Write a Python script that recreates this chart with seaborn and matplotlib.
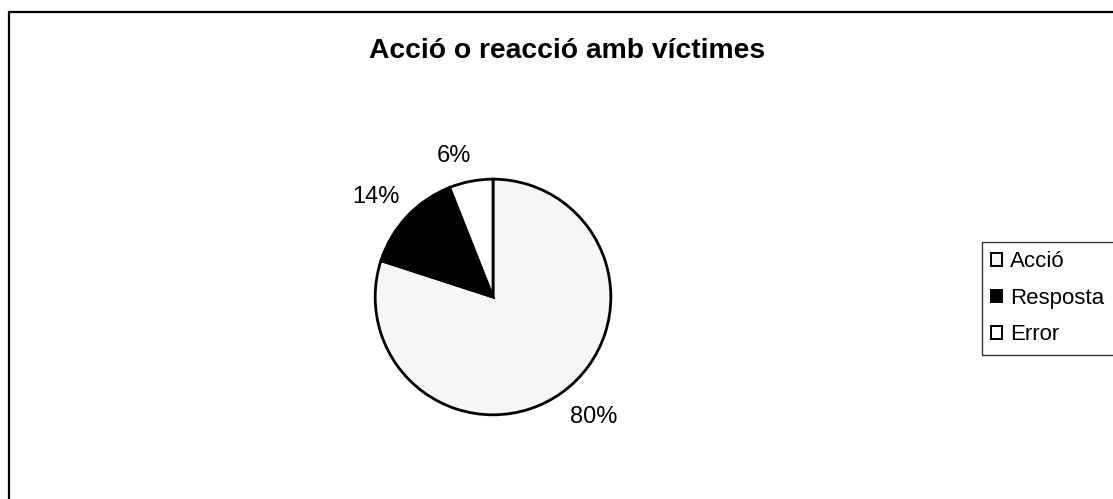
import matplotlib
matplotlib.use("Agg")
import matplotlib.pyplot as plt
import seaborn as sns
from matplotlib.lines import Line2D

sns.set_theme(style="white")
plt.rcParams["font.family"] = ["Liberation Sans", "DejaVu Sans"]
plt.rcParams["text.color"] = "black"

categories = ["Acció", "Resposta", "Error"]
shares = [80, 14, 6]
colors = ["#f6f6f6", "#000000", "#ffffff"]
title = "Acció o reacció amb víctimes"

W, H = 1113, 499
fig = plt.figure(figsize=(W / 100, H / 100), dpi=100)
fig.patch.set_facecolor("white")


def fx(px):
    return px / W


def fy(py):
    return 1 - py / H


# outer chart-area frame (left and top edges visible)
fig.add_artist(Line2D([fx(9), fx(9)], [0, fy(12)], color="black", lw=1.6,
                      transform=fig.transFigure))
fig.add_artist(Line2D([fx(9), 1], [fy(12), fy(12)], color="black", lw=1.6,
                      transform=fig.transFigure))

# pie axes
r = 119
cx, cy = 493, 297
ax = fig.add_axes([fx(cx - r), fy(cy + r), 2 * r / W, 2 * r / H])
wedges, _ = ax.pie(shares, colors=colors, startangle=90, counterclock=False,
                   wedgeprops=dict(edgecolor="black", linewidth=2.0))
ax.set_aspect("auto")
ax.set_xlim(-1.01, 1.01)
ax.set_ylim(-1.01, 1.01)

fig.text(fx(567), fy(58), title, ha="center", va="baseline",
         fontsize=20.3, fontweight="bold")

# percentage labels (centre x, baseline y)
label_pos = {"Acció": (594, 423), "Resposta": (376, 203), "Error": (454, 162)}
for cat, val in zip(categories, shares):
    x, y = label_pos[cat]
    fig.text(fx(x), fy(y), f"{val}%", ha="center", va="baseline", fontsize=17)

leg = fig.legend(wedges, categories, loc="upper left",
                 bbox_to_anchor=(fx(982), fy(242)),
                 frameon=True, fontsize=16, handlelength=0.5, handleheight=0.5,
                 handletextpad=0.35, borderpad=0.42, labelspacing=0.7,
                 borderaxespad=0, fancybox=False)
leg.get_frame().set_edgecolor("black")
leg.get_frame().set_linewidth(1.0)
for h in leg.legend_handles:
    h.set_edgecolor("black")
    h.set_linewidth(1.4)

fig.savefig("out.png", dpi=100, facecolor="white")
